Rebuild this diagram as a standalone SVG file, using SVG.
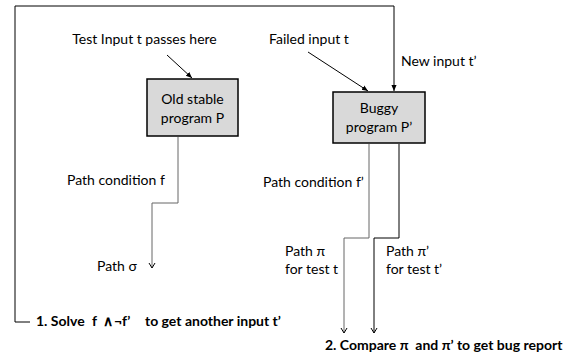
<svg xmlns="http://www.w3.org/2000/svg" width="579" height="360" viewBox="0 0 579 360">
<style>
text{font-family:Lato,"Liberation Sans",sans-serif;font-size:14px;fill:#000}
.b{font-weight:bold}
.m{text-anchor:middle}
.box{fill:#d9d9d9;stroke:#000;stroke-width:1.5}
.ln{fill:none;stroke:#000;stroke-width:1}
.gl{fill:none;stroke:#666;stroke-width:1}
</style>
<defs>
<marker id="ah" viewBox="0 0 8 8" refX="8" refY="4" markerWidth="8" markerHeight="8" orient="auto" markerUnits="userSpaceOnUse">
<path d="M3,1 L8,4 L3,7" fill="none" stroke="#000" stroke-width="1"/>
</marker>
<marker id="af" viewBox="0 0 8 8" refX="7" refY="4" markerWidth="7" markerHeight="7" orient="auto" markerUnits="userSpaceOnUse">
<path d="M0,1 L7,4 L0,7 z" fill="#000"/>
</marker>
</defs>
<g id="connectors">
<path class="ln" d="M30,322 H15 V6 H394 V91" marker-end="url(#af)"/>
<line class="ln" x1="167" y1="55" x2="192" y2="78" marker-end="url(#af)"/>
<line class="ln" x1="308" y1="52" x2="368" y2="91" marker-end="url(#af)"/>
<path class="gl" d="M178,137 V203 H152 V268" marker-end="url(#ah)"/>
<path class="gl" d="M369,144 V238 H344 V333" marker-end="url(#ah)"/>
<path class="ln" d="M399,144 V238 H374 V333" marker-end="url(#ah)"/>
</g>
<g id="old">
<rect class="box" x="147" y="79" width="91" height="57"/>
<text class="m" x="192.5" y="104">Old stable</text>
<text class="m" x="192.5" y="123">program P</text>
</g>
<g id="buggy">
<rect class="box" x="333" y="92" width="92" height="51"/>
<text class="m" x="379" y="113">Buggy</text>
<text class="m" x="379" y="132">program P’</text>
</g>
<g id="labels">
<text class="m" x="144.5" y="44">Test Input t passes here</text>
<text x="269" y="44">Failed input t</text>
<text x="401" y="66">New input t’</text>
<text x="67" y="185">Path condition f</text>
<text x="97" y="271">Path σ</text>
<text x="263" y="187">Path condition f’</text>
<text x="285" y="256">Path π</text>
<text x="285" y="274">for test t</text>
<text x="386" y="256">Path π’</text>
<text x="386" y="274">for test t’</text>
<text class="b" y="326"><tspan x="36">1. Solve</tspan><tspan x="92">f</tspan><tspan x="103">∧</tspan><tspan x="114">¬f’</tspan><tspan x="145">to get another input t’</tspan></text>
<text class="b" x="325" y="350" xml:space="preserve">2. Compare π  and π’ to get bug report</text>
</g>
</svg>
